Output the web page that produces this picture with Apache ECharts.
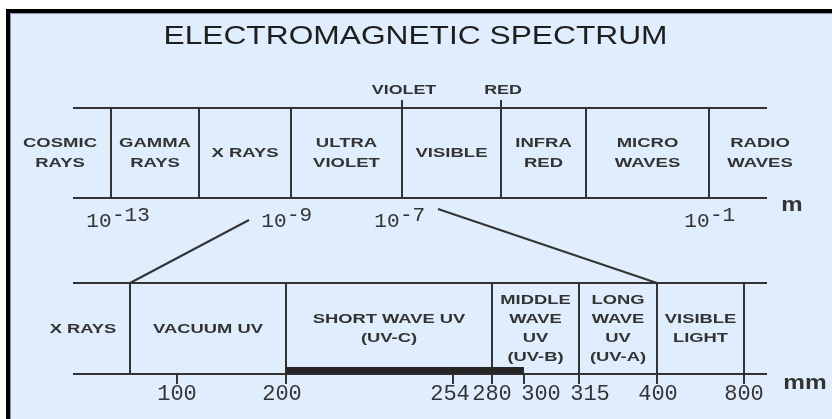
<!DOCTYPE html>
<html>
<head>
<meta charset="utf-8">
<title>Electromagnetic spectrum</title>
<script src="https://cdn.jsdelivr.net/npm/echarts@6.0.0/dist/echarts.min.js"></script>
<style>
  html, body { margin: 0; padding: 0; background: #fff; }
  #chart { width: 832px; height: 419px; }
</style>
</head>
<body>
<div id="chart"></div>
<script>
// ---- data (x is the schematic axis, 0..832) ----
const titleText = 'ELECTROMAGNETIC SPECTRUM'

// top band: the whole spectrum in metres
const topBands = ['COSMIC\nRAYS', 'GAMMA\nRAYS', 'X RAYS', 'ULTRA\nVIOLET', 'VISIBLE', 'INFRA\nRED', 'MICRO\nWAVES', 'RADIO\nWAVES']
const topEdges = [9, 111, 199, 291, 402, 501, 586, 709, 811] // first/last are only used to centre the end labels
const topEdgeNames = ['', '', '', '', 'VIOLET', 'RED', '', '', '']
const topPowers = ['-13', '-9', '-7', '-1']
const topPowerAt = [111, 286, 399, 709]
const topUnit = 'm'

// bottom band: the UV part blown up
const bottomBands = ['X RAYS', 'VACUUM UV', 'SHORT WAVE UV\n(UV-C)', 'MIDDLE\nWAVE\nUV\n(UV-B)', 'LONG\nWAVE\nUV\n(UV-A)', 'VISIBLE\nLIGHT']
const bottomEdges = [36, 130, 286, 492, 579, 657, 744]
const bottomTicks = ['100', '200', '254', '280', '300', '315', '400', '800']
const bottomTickAt = [177, 286, 453, 492, 524, 579, 657, 744]
const uvcRange = ['200', '300']
const bottomUnit = 'mm'

// ---- layout ----
const L = {
  ruleX: [73, 767],
  topY: [108, 198], markY: 100,
  botY: [283, 374], tickY: 384,
  barY: 370.5,
  zoomFrom: [[249, 220], [438, 209]],
  zoomTo: [130, 657],
}
const ink = '#333'
const sans = '"Liberation Sans", Arial, sans-serif'
const mono = '"Liberation Mono", "Courier New", monospace'
const tickShift = [0, -4, -3, 0, 17, 11, 1, 0]

// straight rules
const rules = []
L.topY.concat(L.botY).forEach((y) => rules.push([[L.ruleX[0], y], [L.ruleX[1], y]]))
topEdges.slice(1, -1).forEach((x, i) => {
  rules.push([[x, topEdgeNames[i + 1] ? L.markY : L.topY[0]], [x, L.topY[1]]])
})
bottomEdges.slice(1).forEach((x, i) => {
  rules.push([[x, L.botY[0]], [x, i === 0 ? L.botY[1] : L.tickY]])
})
bottomTickAt.forEach((x) => rules.push([[x, L.botY[1]], [x, L.tickY]]))
L.zoomFrom.forEach((p, i) => rules.push([p, [L.zoomTo[i], L.botY[0]]]))

const barFrom = bottomTickAt[bottomTicks.indexOf(uvcRange[0])]
const barTo = bottomTickAt[bottomTicks.indexOf(uvcRange[1])]

// text items
const texts = []
const mid = (arr, i) => (arr[i] + arr[i + 1]) / 2
texts.push({x: 415.5, y: 37, text: titleText, font: '26px ' + sans, sx: 1.22, color: '#1e1e1e'})
topBands.forEach((t, i) => {
  texts.push({x: mid(topEdges, i), y: 153, text: t, font: 'bold 13.5px ' + sans, sx: 1.37, lh: 20})
})
topEdgeNames.forEach((t, i) => {
  if (t) texts.push({x: topEdges[i] + 2, y: 90, text: t, font: 'bold 13.5px ' + sans, sx: 1.32})
})
topPowers.forEach((p, i) => {
  texts.push({x: topPowerAt[i] + 0.5, y: 221, text: '10', font: '21px ' + mono, sx: 1, align: 'right'})
  texts.push({x: topPowerAt[i] + 1, y: 215, text: p, font: '21px ' + mono, sx: 1, align: 'left'})
})
texts.push({x: 792, y: 205, text: topUnit, font: 'bold 20px ' + sans, sx: 1.2})
bottomBands.forEach((t, i) => {
  texts.push({x: mid(bottomEdges, i), y: 329, text: t, font: 'bold 13.5px ' + sans, sx: 1.36, lh: 19})
})
bottomTicks.forEach((t, i) => {
  texts.push({x: bottomTickAt[i] + tickShift[i], y: 394, text: t, font: '22px ' + mono, sx: 1})
})
texts.push({x: 805, y: 383, text: bottomUnit, font: 'bold 20px ' + sans, sx: 1.22})

const chart = echarts.init(document.getElementById('chart'))

const option = {
  animation: false,
  backgroundColor: '#fff',
  graphic: [
    {
      type: 'rect', z: -10, silent: true,
      shape: {x: 8, y: 11, width: 900, height: 500},
      style: {fill: '#dfedfd', stroke: '#000', lineWidth: 4},
    },
    {
      type: 'rect', z: -9, silent: true,
      shape: {x: 10.5, y: 13.5, width: 900, height: 500},
      style: {fill: null, stroke: '#8c96a2', lineWidth: 1},
    },
  ],
  grid: {left: 0, right: 0, top: 0, bottom: 0},
  xAxis: {type: 'value', min: 0, max: 832, show: false},
  yAxis: {type: 'value', min: 0, max: 419, inverse: true, show: false},
  series: [
    {
      name: 'rules',
      type: 'lines',
      coordinateSystem: 'cartesian2d',
      silent: true,
      z: 2,
      lineStyle: {color: ink, width: 2, opacity: 1},
      data: rules.map((c) => ({coords: c})),
    },
    {
      name: 'UV-C',
      type: 'lines',
      coordinateSystem: 'cartesian2d',
      silent: true,
      z: 3,
      lineStyle: {color: '#262626', width: 7, opacity: 1, cap: 'butt'},
      data: [{coords: [[barFrom, L.barY], [barTo, L.barY]]}],
    },
    {
      name: 'labels',
      type: 'custom',
      clip: false,
      silent: true,
      z: 4,
      data: texts.map((t) => [t.x, t.y]),
      renderItem: (params, api) => {
        const t = texts[params.dataIndex]
        const p = api.coord([api.value(0), api.value(1)])
        return {
          type: 'text',
          x: p[0],
          y: p[1],
          scaleX: t.sx,
          style: {
            text: t.text,
            font: t.font,
            fill: t.color || ink,
            align: t.align || 'center',
            verticalAlign: 'middle',
            lineHeight: t.lh,
          },
        }
      },
    },
  ],
}

chart.setOption(option)
</script>
</body>
</html>
